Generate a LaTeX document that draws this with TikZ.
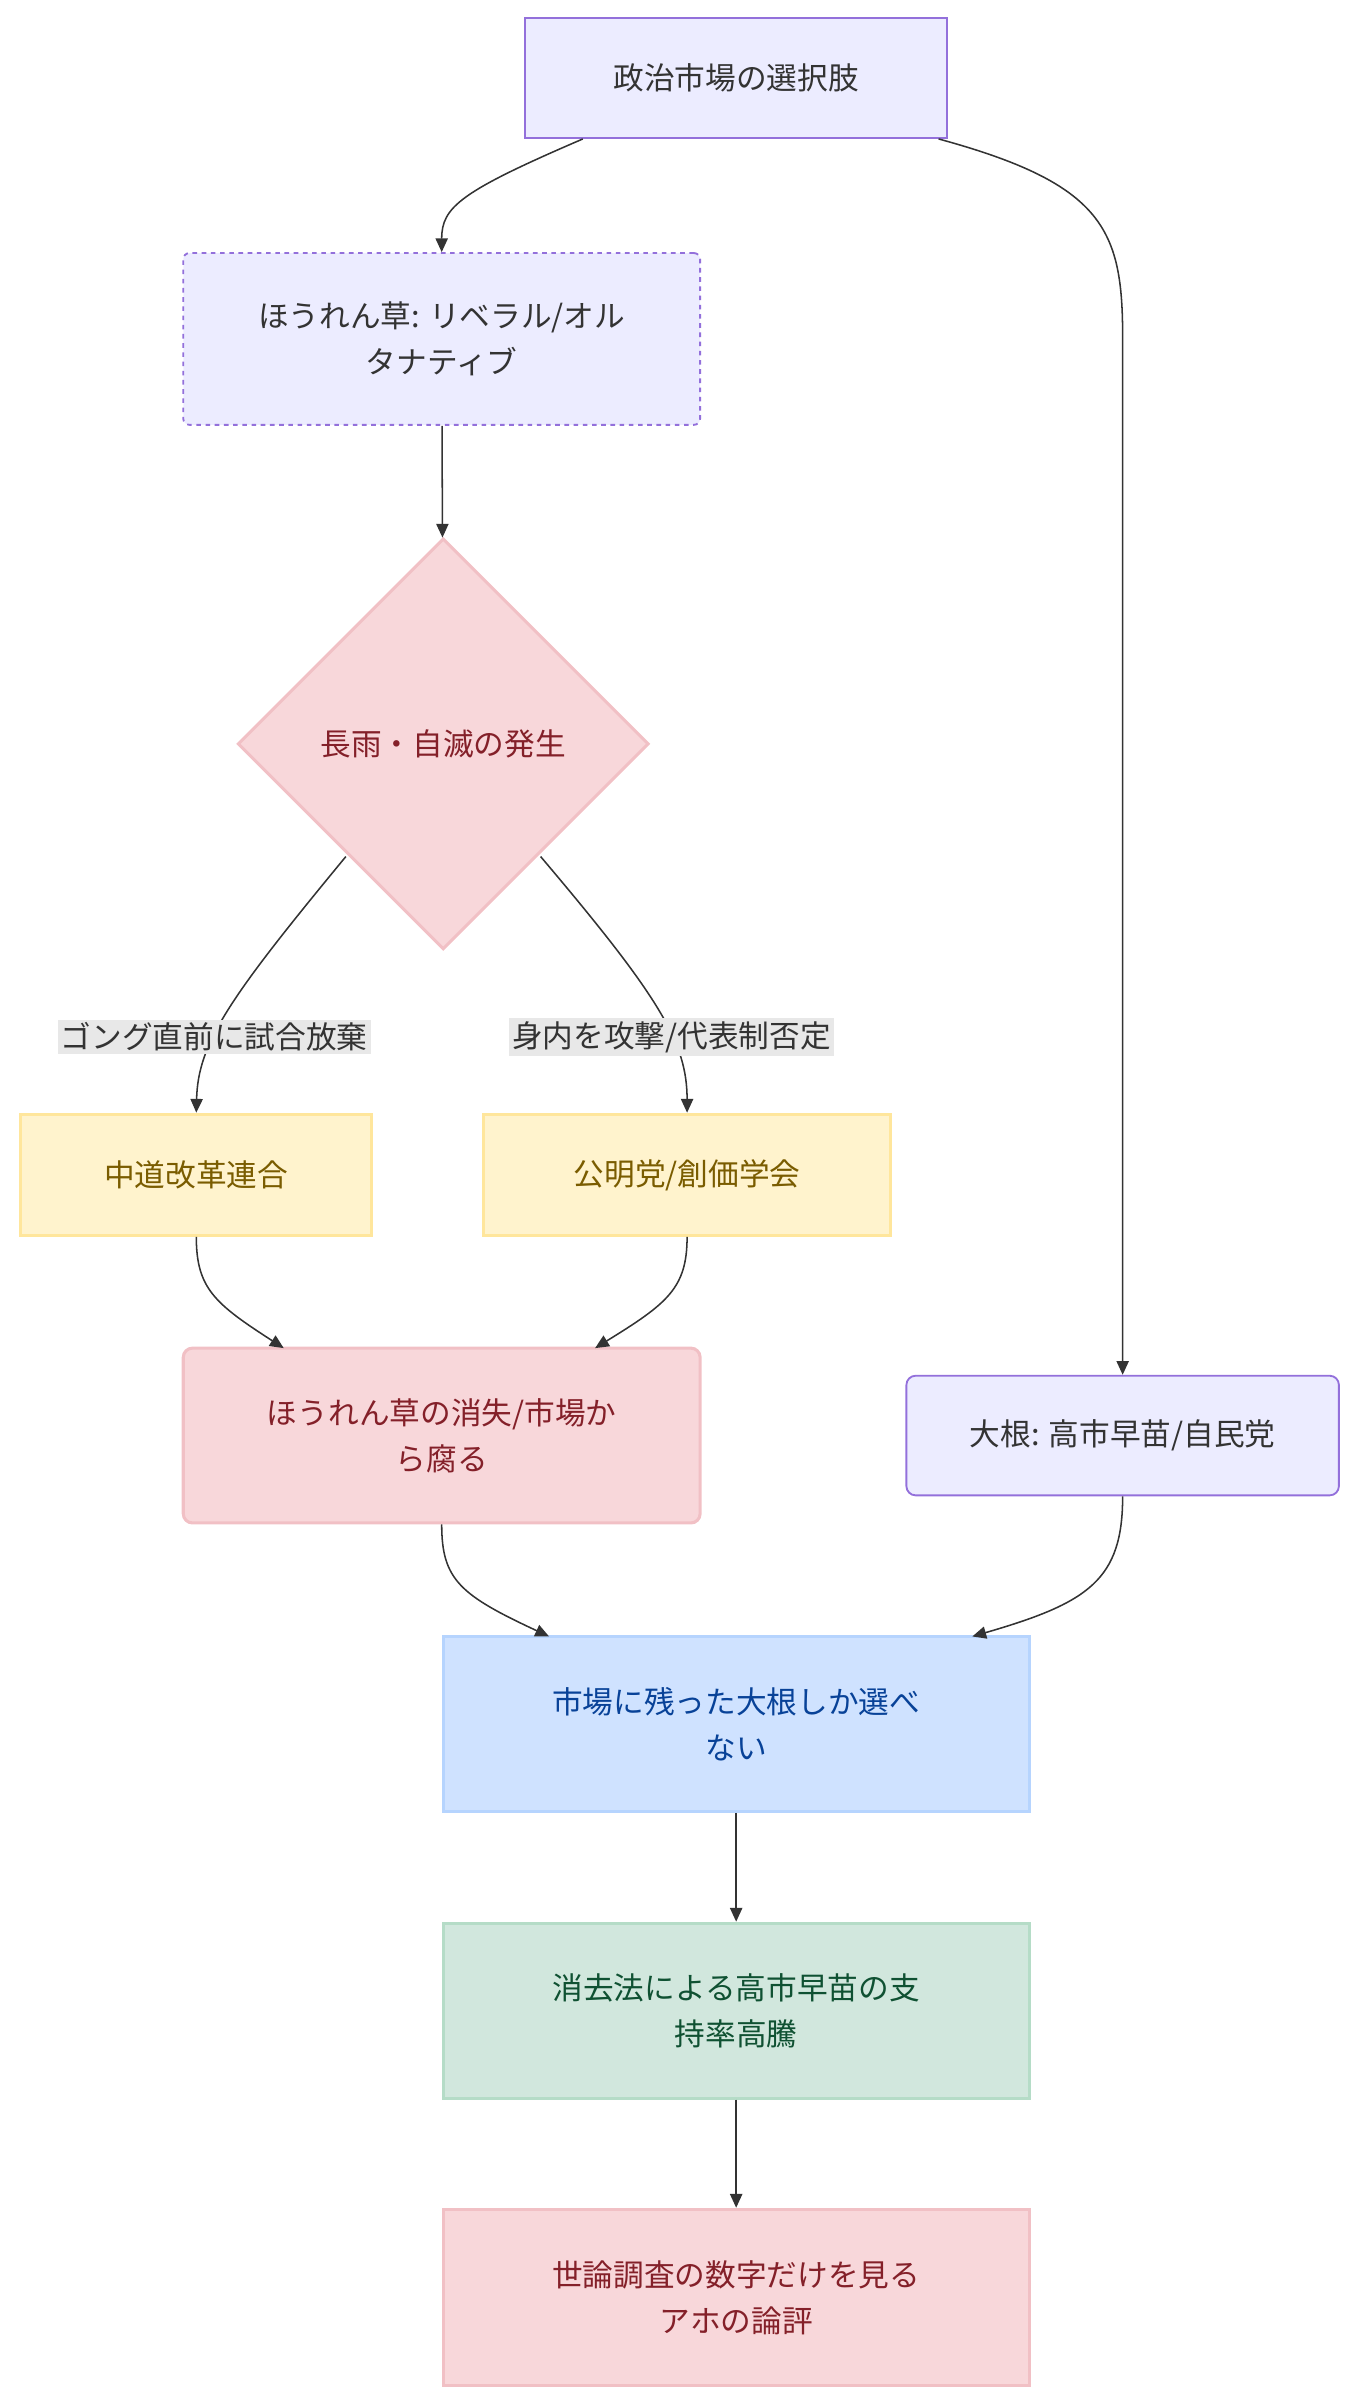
\documentclass[tikz,border=0pt]{standalone}
\usepackage{fontspec}
\setmainfont{Noto Sans CJK JP}
\usetikzlibrary{shapes.geometric,arrows.meta}
\definecolor{defFill}{HTML}{ECECFF}
\definecolor{defLine}{HTML}{9370DB}
\definecolor{pinkFill}{HTML}{F8D7DA}
\definecolor{pinkLine}{HTML}{F1C0C5}
\definecolor{pinkText}{HTML}{842029}
\definecolor{yelFill}{HTML}{FFF3CD}
\definecolor{yelLine}{HTML}{FFE69C}
\definecolor{yelText}{HTML}{7A5C00}
\definecolor{bluFill}{HTML}{CFE2FF}
\definecolor{bluLine}{HTML}{B6D4FE}
\definecolor{bluText}{HTML}{084298}
\definecolor{grnFill}{HTML}{D1E7DD}
\definecolor{grnLine}{HTML}{B5DCC7}
\definecolor{grnText}{HTML}{0F5132}
\definecolor{lblFill}{HTML}{E8E8E8}
\begin{document}
\begin{tikzpicture}[x=1pt,y=1pt,yscale=-1,
  font=\fontsize{20}{30}\selectfont,
  box/.style={draw, line width=1.2pt, align=center, inner sep=0pt},
  def/.style={box, fill=defFill, draw=defLine, text=black!80},
  pink/.style={box, fill=pinkFill, draw=pinkLine, text=pinkText, line width=2pt},
  yel/.style={box, fill=yelFill, draw=yelLine, text=yelText, line width=2pt},
  blu/.style={box, fill=bluFill, draw=bluLine, text=bluText, line width=2pt},
  grn/.style={box, fill=grnFill, draw=grnLine, text=grnText, line width=2pt},
  lbl/.style={fill=lblFill, inner sep=2pt, text=black!80},
  link/.style={draw=black!80, line width=1pt, -{Triangle[length=9pt,width=8pt]}}]
  \useasboundingbox (0,0) rectangle (880,1559);
  % nodes
  \node[def, minimum width=275, minimum height=78] (market) at (480,51) {政治市場の選択肢};
  \node[def, dashed, rounded corners=4pt, minimum width=337, minimum height=112] (spinach) at (288,221) {ほうれん草: リベラル/オル\\タナティブ};
  \node[pink, diamond, minimum width=268, minimum height=268] (rain) at (289,485) {長雨・自滅の発生};
  \node[yel, minimum width=229, minimum height=79] (chudo) at (128,766) {中道改革連合};
  \node[yel, minimum width=265, minimum height=79] (komei) at (448,766) {公明党/創価学会};
  \node[pink, rounded corners=6pt, minimum width=337, minimum height=114] (loss) at (288,936) {ほうれん草の消失/市場か\\ら腐る};
  \node[def, rounded corners=6pt, minimum width=282, minimum height=78] (radish) at (732,936) {大根: 高市早苗/自民党};
  \node[blu, minimum width=382, minimum height=114] (only) at (480,1124) {市場に残った大根しか選べ\\ない};
  \node[grn, minimum width=382, minimum height=114] (support) at (480,1311) {消去法による高市早苗の支\\持率高騰};
  \node[pink, minimum width=382, minimum height=115] (pundit) at (480,1498) {世論調査の数字だけを見る\\アホの論評};
  % edges
  \draw[link] (market.south) ++(-100,0) .. controls (300,125) and (288,135) .. (spinach.north);
  \draw[link] (market.south) ++(132,0) .. controls (720,120) and (732,150) .. (732,220) -- (radish.north);
  \draw[link] (spinach) -- (rain);
  \draw[link] (rain.south west) ++(4,6) .. controls (150,650) and (129,680) .. (chudo.north)
    node[lbl, pos=0.62] {ゴング直前に試合放棄};
  \draw[link] (rain.south east) ++(-4,6) .. controls (430,650) and (448,680) .. (komei.north)
    node[lbl, pos=0.62] {身内を攻撃/代表制否定};
  \draw[link] (chudo.south) .. controls (128,840) and (140,850) .. (185,879);
  \draw[link] (komei.south) .. controls (448,840) and (435,850) .. (388,879);
  \draw[link] (loss.south) .. controls (288,1030) and (300,1040) .. (358,1067);
  \draw[link] (radish.south) .. controls (732,1030) and (710,1045) .. (634,1067);
  \draw[link] (only) -- (support);
  \draw[link] (support) -- (pundit);
\end{tikzpicture}
\end{document}
